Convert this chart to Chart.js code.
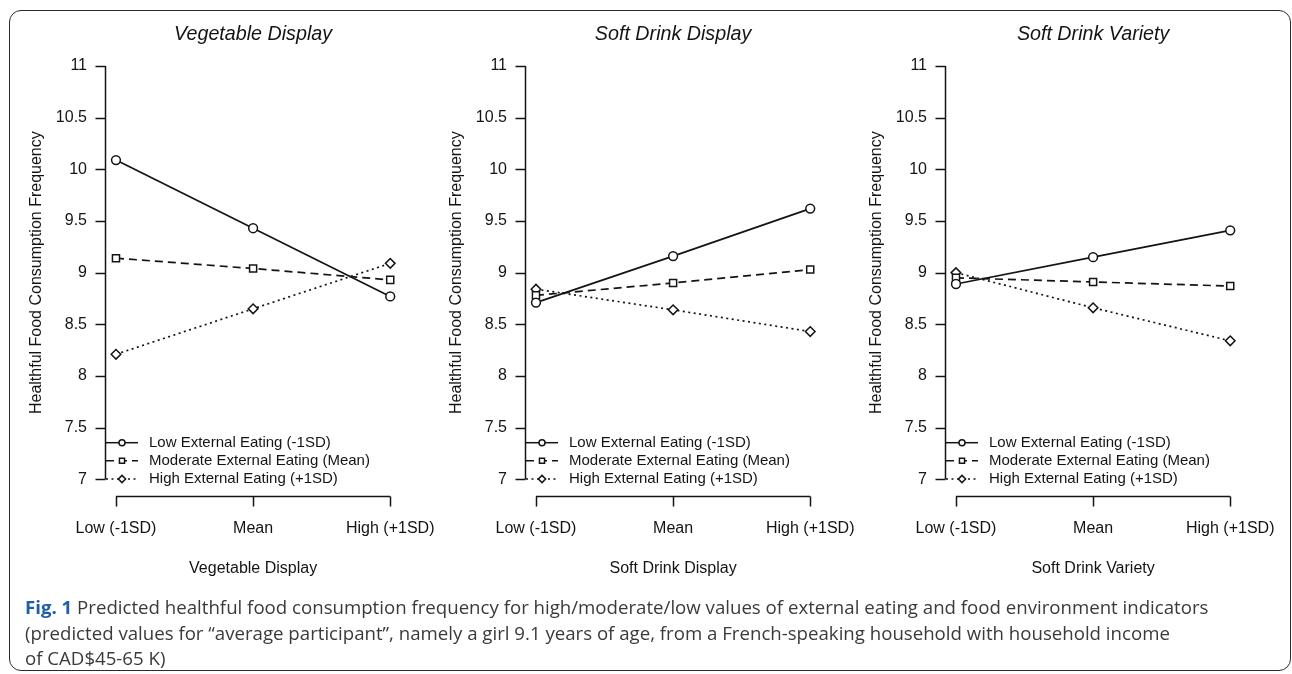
<!DOCTYPE html>
<html><head><meta charset="utf-8">
<script src="https://cdn.jsdelivr.net/npm/chart.js@4.4.1/dist/chart.umd.min.js"></script>
<style>
html,body{margin:0;padding:0;background:#fff;}
body{width:1292px;height:674px;position:relative;overflow:hidden;}
#frame{position:absolute;left:9px;top:10px;width:1282px;height:661px;border:1.5px solid #2b2b2b;border-radius:12px;box-sizing:border-box;}
.pan{position:absolute;top:0;width:420px;height:600px;}
.pan canvas{display:block;}
#caption{position:absolute;left:25px;top:594px;font-family:"Open Sans",sans-serif;font-size:18.65px;line-height:25.5px;color:#3a3a3a;white-space:nowrap;}
#caption b{color:#1f5fa8;font-weight:700;}
</style></head>
<body>
<div id="frame"></div>
<div class="pan" style="left:22px"><canvas id="c0" width="420" height="600"></canvas></div>
<div class="pan" style="left:442px"><canvas id="c1" width="420" height="600"></canvas></div>
<div class="pan" style="left:862px"><canvas id="c2" width="420" height="600"></canvas></div>
<div id="caption"><b>Fig. 1</b> Predicted healthful food consumption frequency for high/moderate/low values of external eating and food environment indicators<br>(predicted values for “average participant”, namely a girl 9.1 years of age, from a French-speaking household with household income<br>of CAD$45-65 K)</div>
<script>
// ---- data ----
const categories = ['Low (-1SD)', 'Mean', 'High (+1SD)'];
const panelTitles = ['Vegetable Display', 'Soft Drink Display', 'Soft Drink Variety'];
const seriesNames = ['Low External Eating (-1SD)', 'Moderate External Eating (Mean)', 'High External Eating (+1SD)'];
const yTicks = [7, 7.5, 8, 8.5, 9, 9.5, 10, 10.5, 11];
const yTickLabels = ['7', '7.5', '8', '8.5', '9', '9.5', '10', '10.5', '11'];
const yTitle = 'Healthful Food Consumption Frequency';

const vegLow = [10.09, 9.43, 8.77];
const vegModerate = [9.14, 9.04, 8.93];
const vegHigh = [8.21, 8.65, 9.09];

const sdDisplayLow = [8.71, 9.16, 9.62];
const sdDisplayModerate = [8.78, 8.90, 9.03];
const sdDisplayHigh = [8.84, 8.64, 8.43];

const sdVarietyLow = [8.89, 9.15, 9.41];
const sdVarietyModerate = [8.95, 8.91, 8.87];
const sdVarietyHigh = [9.00, 8.66, 8.34];

const panelSeries = [
  [vegLow, vegModerate, vegHigh],
  [sdDisplayLow, sdDisplayModerate, sdDisplayHigh],
  [sdVarietyLow, sdVarietyModerate, sdVarietyHigh]
];

// ---- styles ----
const INK = '#141414';
const FONT = '"Liberation Sans", Arial, Helvetica, sans-serif';
const styles = [
  {dash: [], point: 'circle', r: 4.4},
  {dash: [8, 5], point: 'rect', r: 5},
  {dash: [2, 3.5], point: 'rectRot', r: 4.8}
];

function marker(ctx, style, x, y, r) {
  ctx.beginPath();
  if (style === 'circle') {
    ctx.arc(x, y, r, 0, Math.PI * 2);
  } else if (style === 'rect') {
    const s = r * Math.SQRT1_2;
    ctx.rect(x - s, y - s, 2 * s, 2 * s);
  } else {
    ctx.moveTo(x, y - r); ctx.lineTo(x + r, y); ctx.lineTo(x, y + r); ctx.lineTo(x - r, y); ctx.closePath();
  }
  ctx.fillStyle = '#fff';
  ctx.fill();
  ctx.setLineDash([]);
  ctx.stroke();
}

const rAxes = {
  id: 'rAxes',
  afterDraw(chart) {
    const ctx = chart.ctx, xs = chart.scales.x, ys = chart.scales.y, ca = chart.chartArea;
    ctx.save();
    // panel title, centred over the plot region
    ctx.fillStyle = INK;
    ctx.font = 'italic 19.7px ' + FONT;
    ctx.textAlign = 'center';
    ctx.textBaseline = 'middle';
    ctx.fillText(chart.options.panelTitle, (ca.left + ca.right) / 2, 35);

    ctx.strokeStyle = INK;
    ctx.lineWidth = 1.5;
    ctx.setLineDash([]);
    const L = Math.round(ca.left) + 0.5;
    ctx.beginPath();
    ctx.moveTo(L, ys.getPixelForValue(yTicks[0]));
    ctx.lineTo(L, ys.getPixelForValue(yTicks[yTicks.length - 1]));
    yTicks.forEach(v => { const p = Math.round(ys.getPixelForValue(v)) + 0.5; ctx.moveTo(L - 10, p); ctx.lineTo(L, p); });
    const B = Math.round(ca.bottom) + 0.5;
    ctx.moveTo(xs.getPixelForValue(0), B);
    ctx.lineTo(xs.getPixelForValue(categories.length - 1), B);
    categories.forEach((c, i) => { const p = Math.round(xs.getPixelForValue(i)) + 0.5; ctx.moveTo(p, B); ctx.lineTo(p, B + 10); });
    ctx.stroke();

    // legend inside plot region (bottom-left)
    const rowOffsets = [53.1, 35, 16.8];
    ctx.font = '15px ' + FONT;
    ctx.textBaseline = 'middle';
    ctx.textAlign = 'left';
    chart.data.datasets.forEach((ds, i) => {
      const y = ca.bottom - rowOffsets[i];
      ctx.strokeStyle = INK;
      ctx.lineWidth = 1.5;
      ctx.setLineDash(ds.borderDash || []);
      ctx.beginPath();
      ctx.moveTo(ca.left + 1, y); ctx.lineTo(ca.left + 33, y);
      ctx.stroke();
      marker(ctx, ds.pointStyle, ca.left + 17, y, ds.pointStyle === 'circle' ? 3 : 3.6);
      ctx.fillStyle = INK;
      ctx.fillText(ds.label, ca.left + 44, y);
    });
    ctx.restore();
  }
};

panelTitles.forEach((title, p) => {
  const datasets = panelSeries[p].map((vals, s) => ({
    label: seriesNames[s],
    data: vals.map((v, i) => ({x: i, y: v})),
    borderColor: INK,
    backgroundColor: '#fff',
    borderWidth: 1.7,
    borderDash: styles[s].dash,
    pointStyle: styles[s].point,
    pointRadius: styles[s].r,
    pointBorderWidth: 1.5,
    pointBorderColor: INK,
    pointBackgroundColor: '#fff',
    tension: 0,
    fill: false
  }));
  new Chart(document.getElementById('c' + p), {
    type: 'line',
    data: {datasets},
    plugins: [rAxes],
    options: {
      panelTitle: title,
      responsive: false,
      animation: false,
      events: [],
      layout: {padding: {left: 0, right: 40.8, top: 49.5, bottom: 0}},
      plugins: {
        legend: {display: false},
        tooltip: {enabled: false},
        title: {display: false}
      },
      scales: {
        x: {
          type: 'linear', min: -0.08, max: 2.08,
          grid: {display: false, drawTicks: false},
          border: {display: false},
          afterBuildTicks(s) { s.ticks = categories.map((c, i) => ({value: i})); },
          afterFit(s) { s.height = 104.2; s.paddingLeft = 0; s.paddingRight = 0; },
          ticks: {padding: 23, color: INK, autoSkip: false, maxRotation: 0,
                  font: {family: FONT, size: 16}, callback: v => categories[v]},
          title: {display: true, text: title, color: INK, font: {family: FONT, size: 16},
                  padding: {top: 0, bottom: 22}}
        },
        y: {
          type: 'linear', min: 6.84, max: 11.16,
          grid: {display: false, drawTicks: false},
          border: {display: false},
          afterBuildTicks(s) { s.ticks = yTicks.map(v => ({value: v})); },
          afterFit(s) { s.width = 83; s.paddingTop = 0; s.paddingBottom = 0; },
          ticks: {padding: 18, color: INK, autoSkip: false,
                  font: {family: FONT, size: 16}, callback: v => yTickLabels[yTicks.indexOf(v)]},
          title: {display: true, text: yTitle, color: INK, font: {family: FONT, size: 16},
                  padding: {top: 5, bottom: 0}}
        }
      }
    }
  });
});
</script>
</body></html>
